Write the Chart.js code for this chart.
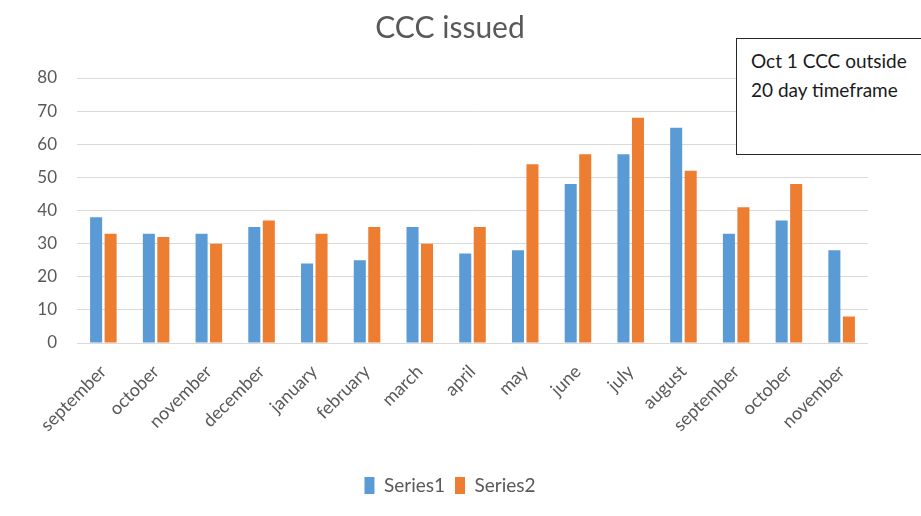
<!DOCTYPE html>
<html>
<head>
<meta charset="utf-8">
<script src="https://cdn.jsdelivr.net/npm/chart.js@4/dist/chart.umd.min.js"></script>
<style>
  html, body { margin: 0; padding: 0; background: #fff; overflow: hidden; }
  #wrap { position: relative; width: 921px; height: 516px; }
  #note {
    position: absolute; left: 736px; top: 38px; width: 200px; height: 117px;
    border: 1px solid #262626; background: #fff;
    font-family: Lato, "Open Sans", sans-serif; font-size: 19px; color: #1a1a1a;
    line-height: 29px; padding: 7px 0 0 14px; box-sizing: border-box;
  }
</style>
</head>
<body>
<div id="wrap">
  <canvas id="c" width="921" height="516"></canvas>
  <div id="note">Oct 1 CCC outside<br>20 day timeframe</div>
</div>
<script>
const months = ["september", "october", "november", "december", "january", "february", "march",
  "april", "may", "june", "july", "august", "september", "october", "november"];
const series1 = [38, 33, 33, 35, 24, 25, 35, 27, 28, 48, 57, 65, 33, 37, 28];
const series2 = [33, 32, 30, 37, 33, 35, 30, 35, 54, 57, 68, 52, 41, 48, 8];
const yTicks = [0, 10, 20, 30, 40, 50, 60, 70, 80];

const grey = "#595959";
const fontFamily = "Lato, 'Open Sans', sans-serif";

new Chart(document.getElementById("c"), {
  type: "bar",
  data: {
    labels: months,
    datasets: [
      { label: "Series1", data: series1, backgroundColor: "#5B9BD5",
        categoryPercentage: 0.55, barPercentage: 0.83 },
      { label: "Series2", data: series2, backgroundColor: "#ED7D31",
        categoryPercentage: 0.55, barPercentage: 0.83 }
    ]
  },
  options: {
    responsive: false,
    animation: false,
    layout: { padding: { left: 0, right: 21, top: 0, bottom: 11 } },
    plugins: {
      tooltip: { enabled: false },
      title: {
        display: true, text: "CCC issued", color: grey,
        font: { family: fontFamily, size: 30, weight: "normal" },
        padding: { top: 10, bottom: 32 }
      },
      legend: {
        position: "bottom",
        labels: {
          color: grey, boxWidth: 10, boxHeight: 17, padding: 10,
          font: { family: fontFamily, size: 19 }
        }
      }
    },
    scales: {
      x: {
        grid: { display: false },
        border: { display: false },
        ticks: {
          color: grey, maxRotation: 45, minRotation: 45, autoSkip: false, padding: 10,
          font: { family: fontFamily, size: 18 }
        },
        afterFit: (s) => { s.height = 123; }
      },
      y: {
        min: 0, max: 80,
        afterBuildTicks: (s) => { s.ticks = yTicks.map(v => ({ value: v })); },
        grid: { color: "#d9d9d9", lineWidth: 1, drawTicks: false },
        border: { display: false },
        ticks: {
          color: grey, padding: 20,
          font: { family: fontFamily, size: 17 }
        },
        afterFit: (s) => { s.width = 77; }
      },
      // empty right-hand margin beside the plot
      yRight: {
        position: "right", min: 0, max: 80,
        grid: { display: false },
        border: { display: false },
        ticks: { display: false },
        afterFit: (s) => { s.width = 32; }
      }
    }
  }
});
</script>
</body>
</html>
